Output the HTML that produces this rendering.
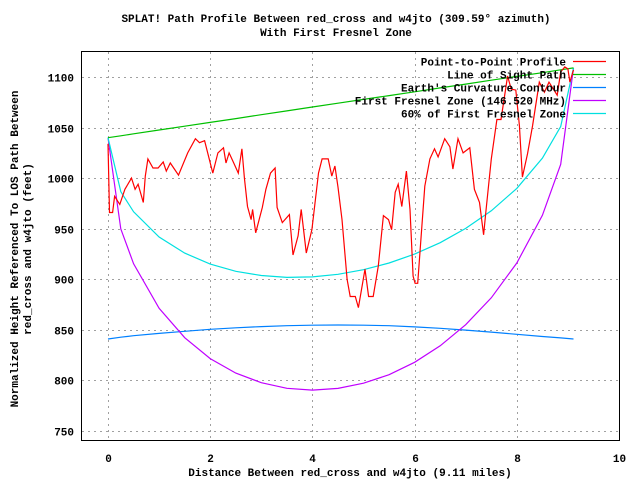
<!DOCTYPE html>
<html><head><meta charset="utf-8"><style>
body{margin:0;background:#fff}
svg text{font-family:"Liberation Mono",monospace;font-size:11px;font-weight:bold;fill:#000}
</style></head><body>
<svg id="c" width="640" height="480" xmlns="http://www.w3.org/2000/svg">
<rect width="640" height="480" fill="#fff"/>
<g id="grid"></g>
<g id="ticks"></g>
<rect x="81.5" y="51.5" width="538" height="389" fill="none" stroke="#000"/>
<text x="336" y="22" text-anchor="middle">SPLAT! Path Profile Between red_cross and w4jto (309.59° azimuth)</text>
<text x="336" y="36" text-anchor="middle">With First Fresnel Zone</text>
<text x="350" y="476" text-anchor="middle">Distance Between red_cross and w4jto (9.11 miles)</text>
<text transform="translate(18,249) rotate(-90)" text-anchor="middle">Normalized Height Referenced To LOS Path Between</text>
<text transform="translate(31,249) rotate(-90)" text-anchor="middle">red_cross and w4jto (feet)</text>
<g id="series"></g>
<g id="legend"></g>
</svg>
<script>
const xTicks=[0,2,4,6,8,10];
const yTicks=[750,800,850,900,950,1000,1050,1100];
const profD=[0,0.03,0.09,0.13,0.23,0.33,0.46,0.53,0.59,0.69,0.73,0.78,0.88,0.98,1.08,1.14,1.22,1.38,1.56,1.71,1.79,1.89,2.05,2.15,2.26,2.31,2.37,2.47,2.55,2.62,2.67,2.73,2.80,2.83,2.89,3.02,3.09,3.18,3.27,3.31,3.41,3.55,3.62,3.72,3.78,3.88,3.99,4.12,4.19,4.31,4.38,4.44,4.50,4.58,4.68,4.74,4.84,4.90,5.03,5.10,5.19,5.29,5.39,5.49,5.55,5.62,5.68,5.75,5.84,5.91,5.97,6.01,6.06,6.20,6.30,6.39,6.46,6.59,6.69,6.75,6.85,6.95,7.08,7.17,7.27,7.35,7.40,7.50,7.61,7.69,7.82,7.89,7.98,8.05,8.11,8.21,8.31,8.44,8.54,8.63,8.79,8.86,8.94,9.00,9.04,9.11];
const profH=[1034,966,966,982,974,989,1000,989,994,976,1002,1019,1010,1010,1016,1007,1015,1003,1025,1039,1035,1037,1005,1025,1030,1015,1025,1014,1005,1029,1000,972,959,969,946,971,989,1005,1010,971,956,964,924,943,969,926,949,1005,1019,1019,1002,1012,991,959,900,883,883,872,910,883,883,913,963,959,949,986,994,972,1007,969,903,896,896,992,1019,1029,1021,1039,1031,1009,1039,1025,1030,989,976,944,969,1019,1058,1058,1101,1088,1087,1052,1001,1024,1052,1095,1085,1095,1082,1105,1110,1108,1095,1107];
const zoneD=[0,0.25,0.5,1,1.5,2,2.5,3,3.5,4,4.5,5,5.5,6,6.5,7,7.5,8,8.5,8.86,9.11];
const losH=[1040,1041.9,1043.8,1047.6,1051.4,1055.1,1058.9,1062.7,1066.5,1070.3,1074.1,1077.9,1081.6,1085.4,1089.2,1093.0,1096.8,1100.6,1104.3,1107.1,1109];
const fresnelH=[1040,949.8,915.3,871.3,842.2,821.6,807.2,797.7,792.2,790.4,792.1,797.3,805.7,817.9,834.2,855.1,881.7,916.1,963.3,1013.7,1109];
const fresnel60H=[1040,986.6,966.7,941.8,925.9,915.0,907.9,903.7,901.9,902.4,904.9,909.5,916.1,924.9,936.2,950.3,967.7,989.9,1019.7,1051.1,1109];
const earthH=[841,842.7,844.2,846.5,848.6,850.5,852.0,853.2,854.1,854.6,854.8,854.6,854.1,852.9,851.5,849.8,847.8,845.6,843.4,842.0,841];
const legendLabels=["Point-to-Point Profile","Line of Sight Path","Earth's Curvature Contour","First Fresnel Zone (146.520 MHz)","60% of First Fresnel Zone"];
const colors=["#ff0000","#00c000","#0080ff","#c000ff","#00e0e0"];
const NS="http://www.w3.org/2000/svg";
const X=d=>108+d*51.1;
const Y=v=>77+(1100-v)*1.0114;
function mk(tag,attrs,parent){const e=document.createElementNS(NS,tag);for(const k in attrs)e.setAttribute(k,attrs[k]);parent.appendChild(e);return e;}
const grid=document.getElementById('grid'),ticks=document.getElementById('ticks');
xTicks.forEach(t=>{const x=Math.round(X(t))+0.5;
 const g=mk('line',{x1:x,x2:x,y1:52,y2:440,stroke:'#a0a0a0','stroke-dasharray':'2,4'},grid);
 
 
 const tl=mk('text',{x:x,y:462,'text-anchor':'middle'},ticks);tl.textContent=t;
 
 });
yTicks.forEach(t=>{const y=Math.round(Y(t))+0.5;
 const g=mk('line',{x1:82,x2:619,y1:y,y2:y,stroke:'#a0a0a0','stroke-dasharray':'2,4'},grid);
 
 
 const tl=mk('text',{x:74,y:y+4,'text-anchor':'end'},ticks);tl.textContent=t;
 
 });
const ser=document.getElementById('series');
function line(ds,hs,col,name){const p=mk('polyline',{points:ds.map((d,i)=>X(d).toFixed(1)+','+Y(hs[i]).toFixed(1)).join(' '),fill:'none',stroke:col,'stroke-width':1.2},ser);
 
 }
line(zoneD,earthH,colors[2],'earth-curvature-line');
line(zoneD,fresnelH,colors[3],'fresnel-zone-line');
line(zoneD,fresnel60H,colors[4],'fresnel-60-line');
line(zoneD,losH,colors[1],'line-of-sight-line');
line(profD,profH,colors[0],'profile-line');
const lg=document.getElementById('legend');
legendLabels.forEach((l,i)=>{const y=61.5+i*13;
 const t=mk('text',{x:566,y:y+4,'text-anchor':'end'},lg);t.textContent=l;
 
 
 const s=mk('line',{x1:573,x2:606,y1:y,y2:y,stroke:colors[i],'stroke-width':1.2},lg);
 
 });
</script>
</body></html>
